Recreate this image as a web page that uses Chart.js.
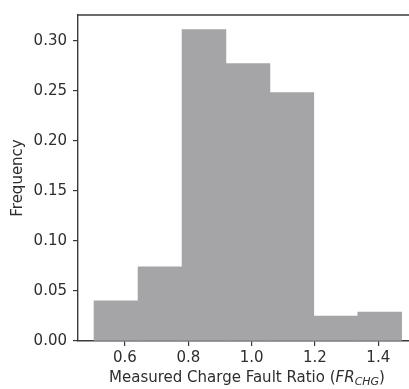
<!DOCTYPE html>
<html>
<head>
<meta charset="utf-8">
<script src="https://cdn.jsdelivr.net/npm/chart.js@4.4.1/dist/chart.umd.min.js"></script>
<style>
  html, body { margin: 0; padding: 0; background: #ffffff; }
  #wrap { width: 409px; height: 389px; position: relative; }
</style>
</head>
<body>
<div id="wrap"><canvas id="c" width="409" height="389"></canvas></div>
<script>
// ---- data ----
const binEdges = [0.502, 0.641, 0.780, 0.919, 1.058, 1.196, 1.335, 1.474];
const frequencies = [0.040, 0.074, 0.311, 0.277, 0.248, 0.025, 0.029];
const xTickValues = [0.6, 0.8, 1.0, 1.2, 1.4];
const yTickValues = [0.00, 0.05, 0.10, 0.15, 0.20, 0.25, 0.30];
const yTitle = 'Frequency';
const xTitleParts = ['Measured Charge Fault Ratio (', 'FR', 'CHG', ')'];

const points = frequencies.map((f, i) => ({ x: (binEdges[i] + binEdges[i + 1]) / 2, y: f }));

const AXIS = '#3a3a3a';
const TEXT = '#2e2e2e';
const FONT = 'DejaVu Sans';
Chart.defaults.font.family = FONT;

const spinePlugin = {
  id: 'spines',
  afterDraw(chart) {
    const { ctx, chartArea } = chart;
    ctx.save();
    ctx.strokeStyle = AXIS;
    ctx.lineWidth = 1.4;
    ctx.beginPath();
    ctx.moveTo(chartArea.left, chartArea.top);
    ctx.lineTo(chartArea.right, chartArea.top);
    ctx.stroke();
    // x-axis title with italic and subscript parts
    const size = 15;
    const normal = size + 'px "' + FONT + '"';
    const italic = 'oblique ' + size + 'px "' + FONT + '"';
    const subFont = 'oblique ' + Math.round(size * 0.7) + 'px "' + FONT + '"';
    const fonts = [normal, italic, subFont, normal];
    const widths = xTitleParts.map((t, i) => { ctx.font = fonts[i]; return ctx.measureText(t).width; });
    const total = widths.reduce((a, b) => a + b, 0);
    let x = 247 - total / 2;
    const y = 378;
    ctx.fillStyle = TEXT;
    ctx.textBaseline = 'middle';
    ctx.textAlign = 'left';
    xTitleParts.forEach((t, i) => {
      ctx.font = fonts[i];
      ctx.fillText(t, x, i === 2 ? y + 4 : y);
      x += widths[i];
    });
    ctx.restore();
  }
};

new Chart(document.getElementById('c'), {
  type: 'bar',
  data: {
    datasets: [{
      data: points,
      backgroundColor: '#a5a5a8',
      borderWidth: 0,
      barPercentage: 1.0,
      categoryPercentage: 1.0
    }]
  },
  options: {
    responsive: false,
    animation: false,
    events: [],
    layout: { padding: { top: 10, right: 0, left: 0, bottom: 0 } },
    plugins: { legend: { display: false }, tooltip: { enabled: false } },
    scales: {
      x: {
        type: 'linear',
        offset: false,
        min: 0.4516,
        max: 1.497,
        afterBuildTicks: (s) => { s.ticks = xTickValues.map(v => ({ value: v })); },
        afterFit: (s) => { s.height = 48; },
        ticks: {
          color: TEXT,
          font: { size: 15 },
          padding: 3,
          maxRotation: 0,
          autoSkip: false,
          callback: (v) => Number(v).toFixed(1)
        },
        grid: { display: true, offset: false, drawOnChartArea: false, drawTicks: true, tickLength: 5, color: AXIS, lineWidth: 1.2 },
        border: { display: true, color: AXIS, width: 1.4 }
      },
      y: {
        min: 0,
        max: 0.3256,
        afterBuildTicks: (s) => { s.ticks = yTickValues.map(v => ({ value: v })); },
        afterFit: (s) => { s.width = 78; },
        ticks: {
          color: TEXT,
          font: { size: 15 },
          padding: 6,
          autoSkip: false,
          callback: (v) => Number(v).toFixed(2)
        },
        title: {
          display: true,
          text: yTitle,
          color: TEXT,
          font: { size: 15 },
          padding: { top: 9, bottom: 0 }
        },
        grid: { display: true, offset: false, drawOnChartArea: false, drawTicks: true, tickLength: 5, color: AXIS, lineWidth: 1.2 },
        border: { display: true, color: AXIS, width: 1.4 }
      }
    }
  },
  plugins: [spinePlugin]
});
</script>
</body>
</html>
